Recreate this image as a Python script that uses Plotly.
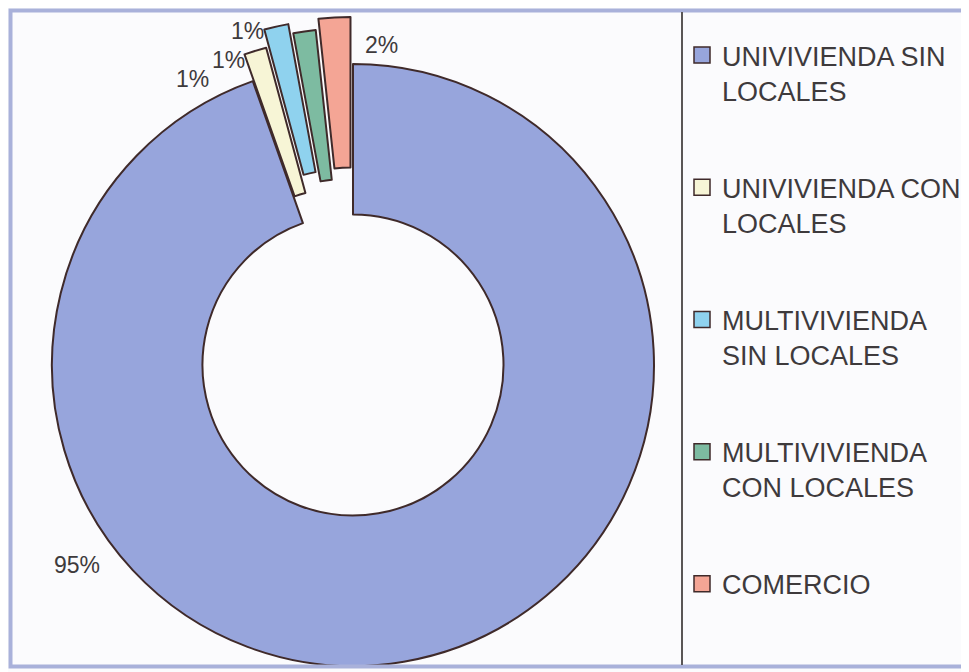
import math
import plotly.graph_objects as go

# ---------------- data ----------------
categories = [
    "UNIVIVIENDA SIN LOCALES",
    "UNIVIVIENDA CON LOCALES",
    "MULTIVIVIENDA SIN LOCALES",
    "MULTIVIVIENDA CON LOCALES",
    "COMERCIO",
]
legend_labels = [
    "UNIVIVIENDA SIN<br>LOCALES",
    "UNIVIVIENDA CON<br>LOCALES",
    "MULTIVIVIENDA<br>SIN LOCALES",
    "MULTIVIVIENDA<br>CON LOCALES",
    "COMERCIO",
]
values = [94.6, 1.2, 1.3, 1.2, 1.7]

# ---------------- style ----------------
colors = ["#97a5dc", "#f7f5d6", "#8fd2ee", "#7dbba1", "#f4a595"]
EDGE = "#3f2a2a"
TEXT = "#3e3a3c"
BG = "#fbfbfd"
pull_px = [0, 28, 46, 36, 47]          # explosion of each slice (px)
label_pos = [(77, 565), (192, 79), (228, 60), (247, 31), (381, 45)]  # label centres (window px)

OFF = 8                 # page body margin (window px)
W, H = 969 - OFF, 672 - OFF
CX, CY, R = 353 - OFF, 365 - OFF, 301
FONT = "Liberation Sans, Arial, sans-serif"


def fx(x):
    return (x - OFF) / W


def fy(y):
    return 1 - (y - OFF) / H


fig = go.Figure()
total = sum(values)
n = len(values)
cum = 0.0
for k, v in enumerate(values):
    mid = 360.0 * (cum + v / 2.0) / total
    cum += v
    a = math.radians(mid)
    cx = CX + pull_px[k] * math.sin(a)
    cy = CY - pull_px[k] * math.cos(a)
    fills = [colors[i] if i == k else "rgba(0,0,0,0)" for i in range(n)]
    edges = [EDGE if i == k else "rgba(0,0,0,0)" for i in range(n)]
    fig.add_trace(go.Pie(
        labels=categories, values=values, sort=False,
        direction="clockwise", rotation=0, hole=0.5,
        marker=dict(colors=fills, line=dict(color=edges, width=2)),
        textinfo="none", hoverinfo="label+percent", showlegend=False,
        domain=dict(x=[(cx - R) / W, (cx + R) / W],
                    y=[1 - (cy + R) / H, 1 - (cy - R) / H]),
    ))

# legend entries
for i, lab in enumerate(legend_labels):
    fig.add_trace(go.Scatter(
        x=[None], y=[None], mode="markers", name=lab,
        legendgroup=str(i),
        marker=dict(symbol="square", size=16, color=colors[i],
                    line=dict(color=EDGE, width=1.5)),
    ))

# percentage labels
for (px, py), v in zip(label_pos, values):
    fig.add_annotation(
        x=fx(px), y=fy(py), xref="paper", yref="paper",
        text=f"{round(v / total * 100)}%", showarrow=False,
        font=dict(family=FONT, size=23, color=TEXT),
        xanchor="center", yanchor="middle",
    )

# chart frame and legend divider
fig.add_shape(type="rect", xref="paper", yref="paper",
              x0=fx(10.5), x1=fx(965.5), y0=fy(666.5), y1=fy(10.5),
              line=dict(color="#a9b1da", width=4), layer="above")
fig.add_shape(type="line", xref="paper", yref="paper",
              x0=fx(682), x1=fx(682), y0=fy(665), y1=fy(12),
              line=dict(color="#5a5656", width=2), layer="above")

fig.update_layout(
    width=W, height=H,
    margin=dict(l=0, r=0, t=0, b=0),
    paper_bgcolor=BG, plot_bgcolor="rgba(0,0,0,0)",
    xaxis=dict(visible=False), yaxis=dict(visible=False),
    showlegend=True,
    legend=dict(
        x=fx(682), y=fy(31), xanchor="left", yanchor="top",
        font=dict(family=FONT, size=27, color=TEXT),
        bgcolor="rgba(0,0,0,0)", valign="top",
        tracegroupgap=59,
    ),
    font=dict(family=FONT),
)

fig.write_html("out.html")
